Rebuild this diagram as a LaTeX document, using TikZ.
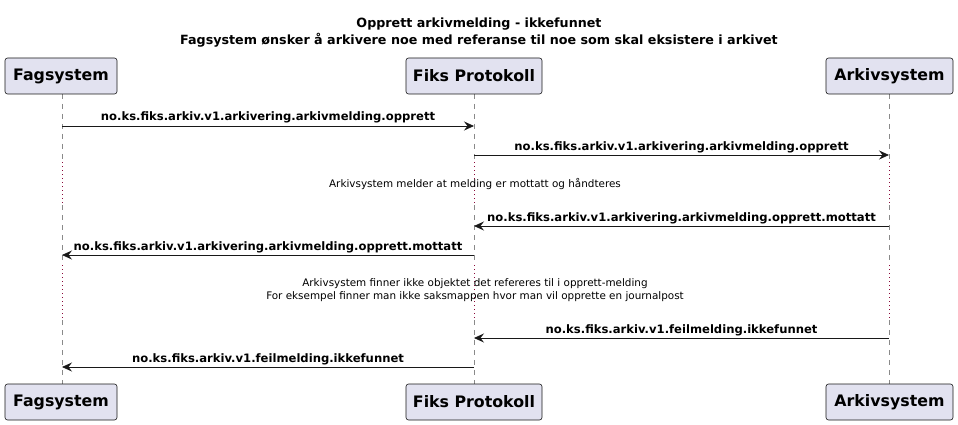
\documentclass[tikz,border=0pt]{standalone}
\usepackage{fontspec}
\setmainfont{DejaVu Sans}
\usetikzlibrary{arrows.meta}
\definecolor{partfill}{HTML}{E2E2F0}
\definecolor{partline}{HTML}{181818}
\definecolor{delaycol}{HTML}{8B0A3A}
\definecolor{lifecol}{HTML}{8A8A8A}
\tikzset{
  part/.style={draw=partline, fill=partfill, rounded corners=2.5pt, line width=0.6pt,
    minimum height=36pt, inner sep=0pt, font=\bfseries\fontsize{15.8}{18}\selectfont},
  life/.style={draw=lifecol, line width=0.6pt, dash pattern=on 5pt off 5pt},
  delay/.style={draw=delaycol, line width=0.9pt, dash pattern=on 0.9pt off 3.1pt},
  msg/.style={draw=partline, line width=0.8pt, -{Stealth[length=10pt,width=9pt,inset=3.5pt]}},
  mlabel/.style={font=\bfseries\fontsize{11.6}{13}\selectfont, inner sep=0pt, anchor=base},
  note/.style={font=\fontsize{10.4}{13}\selectfont, inner sep=0pt, align=center},
  ttl/.style={font=\bfseries\fontsize{12.7}{17}\selectfont, inner sep=0pt, align=center}
}
\begin{document}
\begin{tikzpicture}[x=1pt,y=-1pt]
\useasboundingbox (0,0) rectangle (958,425);
\node[ttl] (title) at (479,33) {Opprett arkivmelding - ikkefunnet\\Fagsystem ønsker å arkivere noe med referanse til noe som skal eksistere i arkivet};
% lifelines
\foreach \x in {62,474,889}{
  \draw[life] (\x,94) -- (\x,162);
  \draw[delay] (\x,162) -- (\x,205);
  \draw[life] (\x,205) -- (\x,265);
  \draw[delay] (\x,265) -- (\x,320);
  \draw[life] (\x,320) -- (\x,384);
}
% participants
\node[part, minimum width=112pt] (fagT) at (61,76) {Fagsystem};
\node[part, minimum width=136pt] (fiksT) at (474,76) {Fiks Protokoll};
\node[part, minimum width=127pt] (arkT) at (889.5,76) {Arkivsystem};
\node[part, minimum width=112pt] (fagB) at (61,402) {Fagsystem};
\node[part, minimum width=136pt] (fiksB) at (474,402) {Fiks Protokoll};
\node[part, minimum width=127pt] (arkB) at (889.5,402) {Arkivsystem};
% messages
\coordinate (m1a) at (62,126); \coordinate (m1b) at (474,126);
\draw[msg] (m1a) -- (m1b) node[mlabel, midway, yshift=5pt] (l1) {no.ks.fiks.arkiv.v1.arkivering.arkivmelding.opprett};
\coordinate (m2a) at (474,155); \coordinate (m2b) at (889,155);
\draw[msg] (m2a) -- (m2b) node[mlabel, midway, yshift=5pt] (l2) {no.ks.fiks.arkiv.v1.arkivering.arkivmelding.opprett};
\node[note] (n1) at (475,184) {Arkivsystem melder at melding er mottatt og håndteres};
\coordinate (m3a) at (889,226); \coordinate (m3b) at (474,226);
\draw[msg] (m3a) -- (m3b) node[mlabel, midway, yshift=5pt] (l3) {no.ks.fiks.arkiv.v1.arkivering.arkivmelding.opprett.mottatt};
\coordinate (m4a) at (474,255); \coordinate (m4b) at (62,255);
\draw[msg] (m4a) -- (m4b) node[mlabel, midway, yshift=5pt] (l4) {no.ks.fiks.arkiv.v1.arkivering.arkivmelding.opprett.mottatt};
\node[note] (n2) at (475,290.5) {Arkivsystem finner ikke objektet det refereres til i opprett-melding\\For eksempel finner man ikke saksmappen hvor man vil opprette en journalpost};
\coordinate (m5a) at (889,338); \coordinate (m5b) at (474,338);
\draw[msg] (m5a) -- (m5b) node[mlabel, midway, yshift=5pt] (l5) {no.ks.fiks.arkiv.v1.feilmelding.ikkefunnet};
\coordinate (m6a) at (474,367); \coordinate (m6b) at (62,367);
\draw[msg] (m6a) -- (m6b) node[mlabel, midway, yshift=5pt] (l6) {no.ks.fiks.arkiv.v1.feilmelding.ikkefunnet};
\end{tikzpicture}
\end{document}
